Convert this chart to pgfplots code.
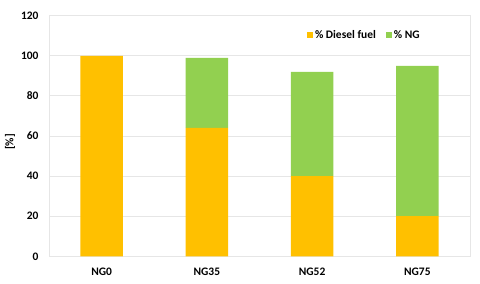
\documentclass[border=0pt]{standalone}
\usepackage{pgfplots}
\pgfplotsset{compat=1.18}
\usepackage{fontspec}
\setmainfont{Carlito}
\definecolor{dieselc}{HTML}{FFC000}
\definecolor{ngc}{HTML}{92D050}
\definecolor{gridc}{HTML}{E6E6E6}
\begin{document}
\begin{tikzpicture}
\useasboundingbox (-49bp,-27.7bp) rectangle (431bp,256.3bp);
\begin{axis}[
  scale only axis,
  width=421bp, height=240.6bp,
  ybar stacked,
  bar width=42.7bp,
  xmin=-0.5, xmax=3.5,
  ymin=0, ymax=120,
  ytick={0,20,...,120},
  xtick={0,1,2,3},
  xticklabels={NG0,NG35,NG52,NG75},
  ymajorgrids,
  grid style={gridc, line width=0.8pt},
  axis line style={gridc, line width=0.8pt},
  major tick length=0pt,
  tick style={draw=none},
  font=\fontsize{11.5}{13}\selectfont\bfseries,
  /pgf/number format/assume math mode=true,
  yticklabel style={xshift=-7bp},
  xticklabel style={yshift=-8bp},
  ylabel={[\%]},
  ylabel style={at={(rel axis cs:0,0.475)}, anchor=center, yshift=39bp},
  legend columns=2,
  legend style={draw=none, fill=none, at={(rel axis cs:0.749,0.92)}, anchor=center,
    /tikz/every even column/.append style={column sep=8bp},
    font=\fontsize{11.5}{13}\selectfont\bfseries},
  legend image code/.code={\fill[#1] (0bp,-3bp) rectangle (6bp,3bp);},
]
\addplot[fill=dieselc, draw=none] coordinates {(0,100) (1,64) (2,40) (3,20)};
\addplot[fill=ngc, draw=none] coordinates {(0,0) (1,35) (2,52) (3,75)};
\legend{\% Diesel fuel, \% NG}
\end{axis}
\end{tikzpicture}
\end{document}
